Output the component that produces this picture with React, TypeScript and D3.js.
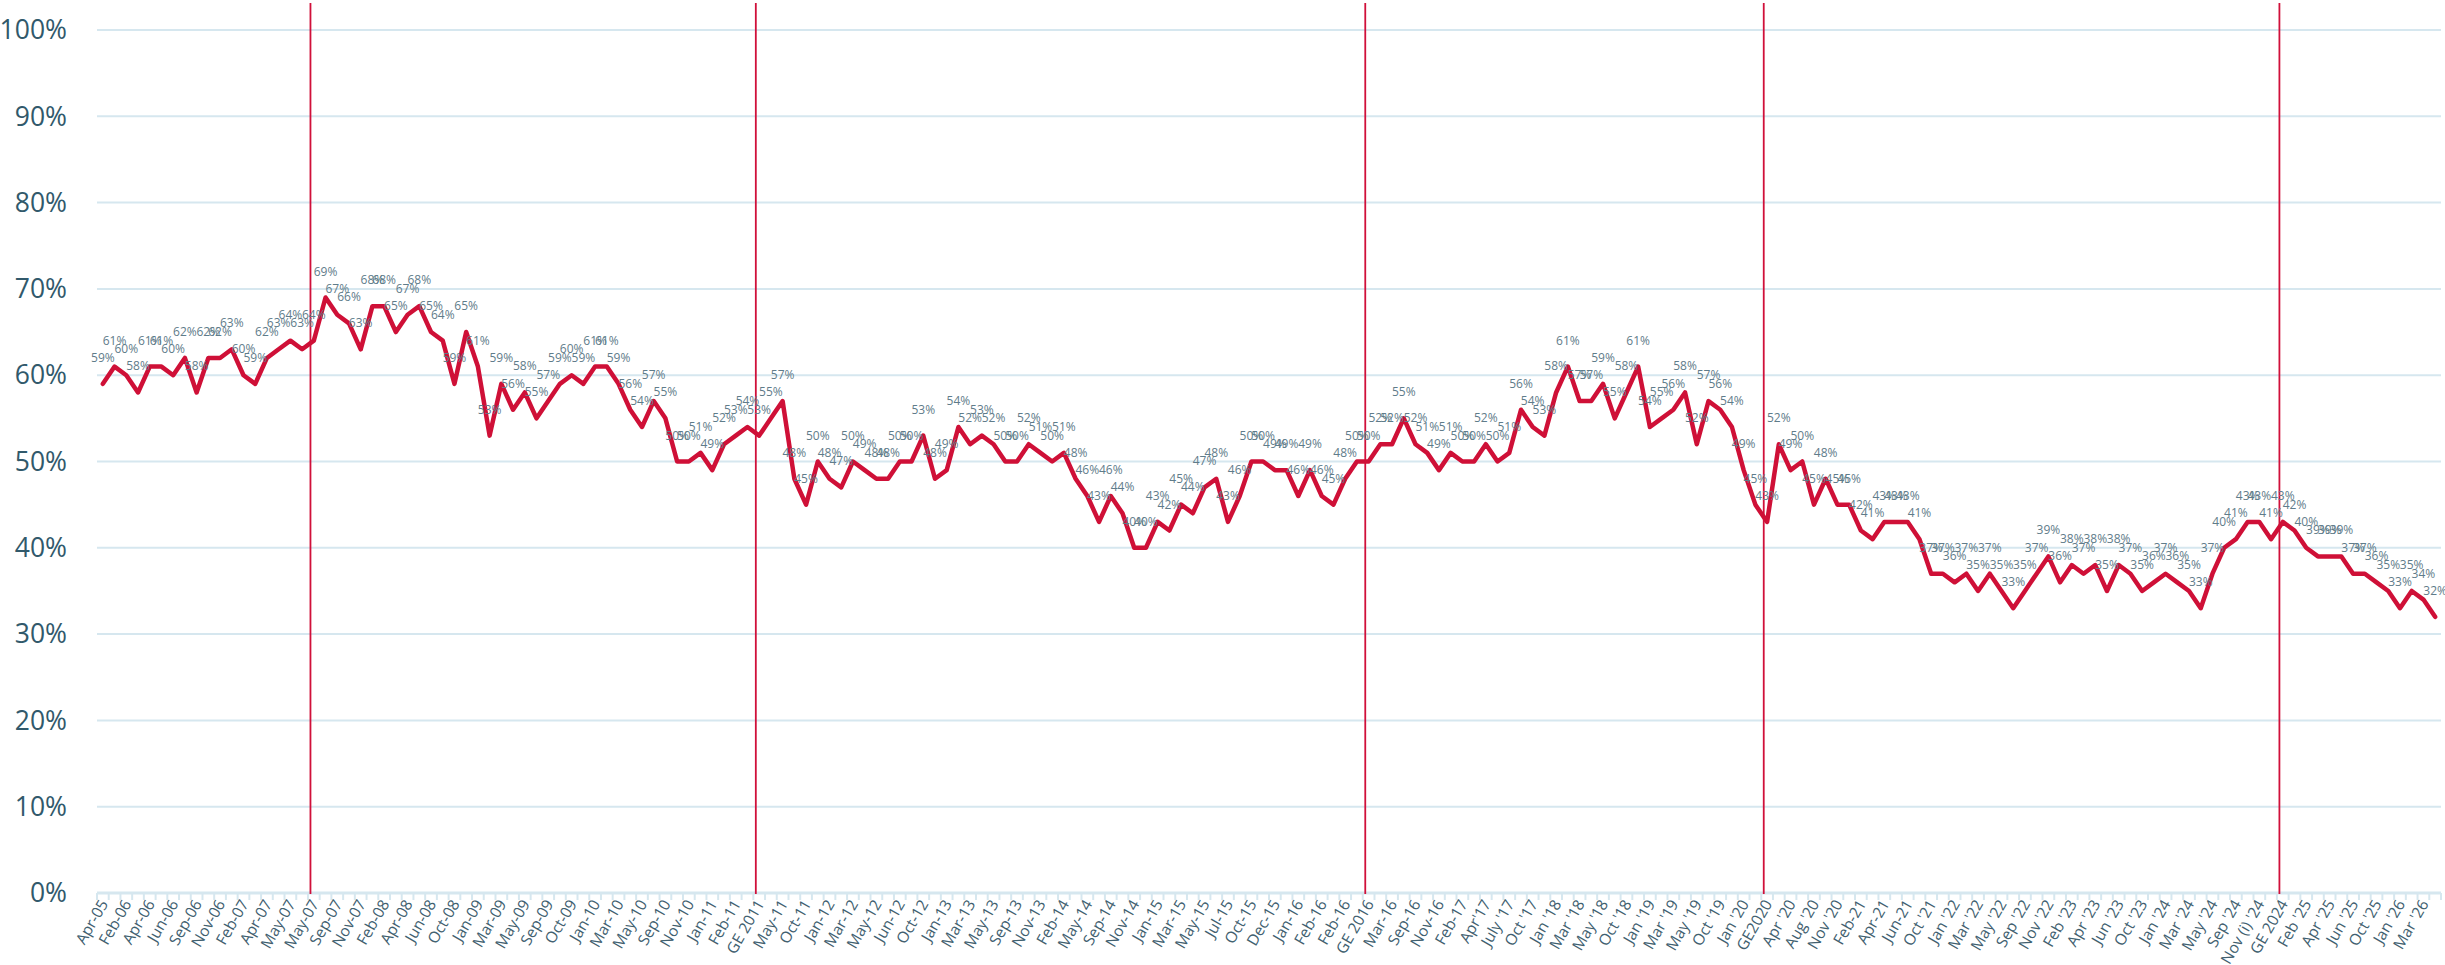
import React from "react";
import * as d3 from "d3";

const tickLabels: string[] = [
  "Apr-05", "Feb-06", "Apr-06", "Jun-06", "Sep-06", "Nov-06", "Feb-07", "Apr-07", "May-07", "May-07",
  "Sep-07", "Nov-07", "Feb-08", "Apr-08", "Jun-08", "Oct-08", "Jan-09", "Mar-09", "May-09", "Sep-09",
  "Oct-09", "Jan-10", "Mar-10", "May-10", "Sep-10", "Nov-10", "Jan-11", "Feb-11", "GE 2011", "May-11",
  "Oct-11", "Jan-12", "Mar-12", "May-12", "Jun-12", "Oct-12", "Jan-13", "Mar-13", "May-13", "Sep-13",
  "Nov-13", "Feb-14", "May-14", "Sep-14", "Nov-14", "Jan-15", "Mar-15", "May-15", "Jul-15", "Oct-15",
  "Dec-15", "Jan-16", "Feb-16", "Feb-16", "GE 2016", "Mar-16", "Sep-16", "Nov-16", "Feb-17", "Apr'17",
  "July '17", "Oct '17", "Jan '18", "Mar '18", "May '18", "Oct '18", "Jan '19", "Mar '19", "May '19", "Oct '19",
  "Jan '20", "GE2020", "Apr '20", "Aug '20", "Nov '20", "Feb-21", "Apr-21", "Jun-21", "Oct '21", "Jan '22",
  "Mar '22", "May '22", "Sep '22", "Nov '22", "Feb '23", "Apr '23", "Jun '23", "Oct '23", "Jan '24", "Mar '24",
  "May '24", "Sep '24", "Nov (i) '24", "GE 2024", "Feb '25", "Apr '25", "Jun '25", "Oct '25", "Jan '26", "Mar '26",
];

const values: number[] = [
  59, 61, 60, 58, 61, 61, 60, 62, 58, 62,
  62, 63, 60, 59, 62, 63, 64, 63, 64, 69,
  67, 66, 63, 68, 68, 65, 67, 68, 65, 64,
  59, 65, 61, 53, 59, 56, 58, 55, 57, 59,
  60, 59, 61, 61, 59, 56, 54, 57, 55, 50,
  50, 51, 49, 52, 53, 54, 53, 55, 57, 48,
  45, 50, 48, 47, 50, 49, 48, 48, 50, 50,
  53, 48, 49, 54, 52, 53, 52, 50, 50, 52,
  51, 50, 51, 48, 46, 43, 46, 44, 40, 40,
  43, 42, 45, 44, 47, 48, 43, 46, 50, 50,
  49, 49, 46, 49, 46, 45, 48, 50, 50, 52,
  52, 55, 52, 51, 49, 51, 50, 50, 52, 50,
  51, 56, 54, 53, 58, 61, 57, 57, 59, 55,
  58, 61, 54, 55, 56, 58, 52, 57, 56, 54,
  49, 45, 43, 52, 49, 50, 45, 48, 45, 45,
  42, 41, 43, 43, 43, 41, 37, 37, 36, 37,
  35, 37, 35, 33, 35, 37, 39, 36, 38, 37,
  38, 35, 38, 37, 35, 36, 37, 36, 35, 33,
  37, 40, 41, 43, 43, 41, 43, 42, 40, 39,
  39, 39, 37, 37, 36, 35, 33, 35, 34, 32,
];

// tick labels sit on every second point; election markers by tick label index
const electionTicks: number[] = [9, 28, 54, 71, 93];
const yTicks: number[] = [0, 10, 20, 30, 40, 50, 60, 70, 80, 90, 100];

const W = 2445;
const H = 965;
const FONT = "'Open Sans', 'Noto Sans', sans-serif";

export default function App() {
  const idx = values.map((_, i) => i);
  const x = d3.scaleBand<number>().domain(idx).range([97, 2441]).padding(0);
  const step = x.step();
  const xc = (i: number) => (x(i) as number) + step / 2;
  const y = d3.scaleLinear().domain([0, 100]).range([893, 30]);

  const line = d3
    .line<number>()
    .x((_, i) => xc(i))
    .y((v) => y(v));

  const edges = d3.range(values.length + 1).map((k) => 97 + k * step);

  return (
    <svg
      width={W}
      height={H}
      style={{ position: "absolute", left: 0, top: 0, background: "#fff" }}
      fontFamily={FONT}
    >
      {yTicks.map((t) => (
        <line
          key={"g" + t}
          x1={97}
          x2={2441}
          y1={y(t)}
          y2={y(t)}
          stroke="#d6e7ef"
          strokeWidth={t === 0 ? 3 : 2}
        />
      ))}
      {edges.map((ex, k) => (
        <line key={"t" + k} x1={ex} x2={ex} y1={893} y2={900} stroke="#d6e7ef" strokeWidth={2} />
      ))}
      {yTicks.map((t) => (
        <text
          key={"yl" + t}
          x={67}
          y={y(t)}
          dy="0.35em"
          textAnchor="end"
          fontSize={26.5}
          fill="#31596b"
        >
          {t}%
        </text>
      ))}
      {electionTicks.map((ti) => {
        const i = ti * 2;
        const ex = (x(i) as number) + 2.5;
        return (
          <line key={"e" + ti} x1={ex} x2={ex} y1={3} y2={894} stroke="#d0103a" strokeWidth={1.8} />
        );
      })}
      <path
        d={line(values) || ""}
        fill="none"
        stroke="#cf1037"
        strokeWidth={4.5}
        strokeLinejoin="round"
        strokeLinecap="round"
      />
      {values.map((v, i) => (
        <text
          key={"dl" + i}
          x={xc(i)}
          y={y(v) - 22}
          textAnchor="middle"
          fontSize={12}
          fill="#5f7c8a"
        >
          {v}%
        </text>
      ))}
      {tickLabels.map((lab, k) => {
        const i = k * 2;
        return (
          <text
            key={"xl" + k}
            transform={`translate(${xc(i) + 1},${901}) rotate(-60)`}
            dy="0.35em"
            textAnchor="end"
            fontSize={15.5}
            fill="#41606f"
          >
            {lab}
          </text>
        );
      })}
    </svg>
  );
}
